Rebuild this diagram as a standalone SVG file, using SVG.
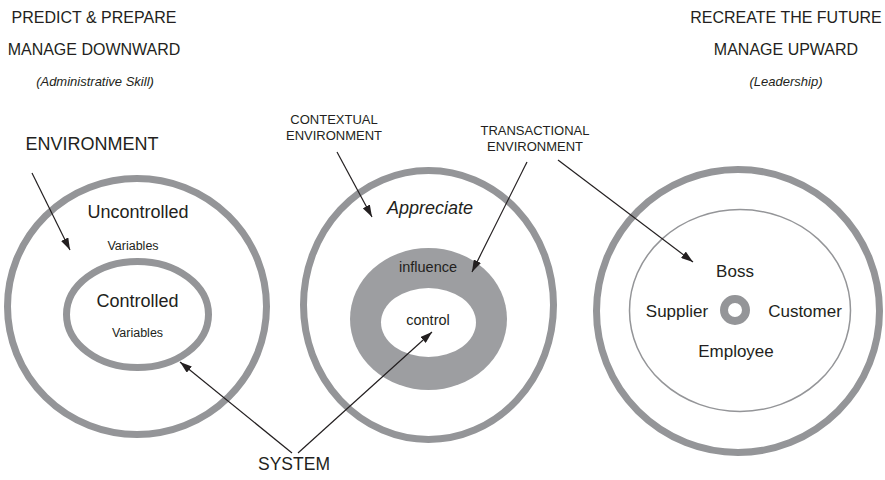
<svg xmlns="http://www.w3.org/2000/svg" width="885" height="480" viewBox="0 0 885 480">
<style>
text{font-family:"Liberation Sans",Arial,sans-serif;fill:#231f20;text-anchor:middle}
.ring{fill:none;stroke:#949598;stroke-width:7}
.thin{fill:none;stroke:#949598;stroke-width:1.5}
.con{stroke:#231f20;stroke-width:1.2;fill:none;marker-end:url(#ah)}
.h{font-size:16px}
.it{font-style:italic}
</style>
<defs>
<marker id="ah" viewBox="0 0 12 8" refX="12" refY="4" markerWidth="12" markerHeight="8" markerUnits="userSpaceOnUse" orient="auto">
<path d="M0,0 L12,4 L0,8 Z" fill="#231f20"/>
</marker>
</defs>
<rect width="885" height="480" fill="#fff"/>
<g id="headings">
<text class="h" x="94" y="23">PREDICT &amp; PREPARE</text>
<text class="h" x="94" y="55">MANAGE DOWNWARD</text>
<text class="it" x="95" y="86" font-size="13">(Administrative Skill)</text>
<text class="h" x="786" y="23">RECREATE THE FUTURE</text>
<text class="h" x="786" y="55">MANAGE UPWARD</text>
<text class="it" x="786" y="86" font-size="13">(Leadership)</text>
</g>
<g id="label-environment"><text x="92" y="150" font-size="18">ENVIRONMENT</text></g>
<g id="label-contextual"><text x="334" y="124" font-size="13">CONTEXTUAL</text><text x="334" y="140" font-size="13">ENVIRONMENT</text></g>
<g id="label-transactional"><text x="535" y="135" font-size="13">TRANSACTIONAL</text><text x="535" y="151" font-size="13">ENVIRONMENT</text></g>
<g id="label-system"><text x="294" y="470" font-size="17.5">SYSTEM</text></g>
<g id="left-node">
<ellipse class="ring" cx="137" cy="306.5" rx="129.5" ry="128"/>
<ellipse class="ring" cx="137.5" cy="314.5" rx="71" ry="53"/>
<text x="138" y="218" font-size="18">Uncontrolled</text>
<text x="133" y="250" font-size="12.5">Variables</text>
<text x="137.5" y="307" font-size="18">Controlled</text>
<text x="137.5" y="337" font-size="12.5">Variables</text>
</g>
<g id="middle-node">
<ellipse class="ring" cx="428.5" cy="305" rx="125" ry="134.5"/>
<ellipse cx="428.5" cy="319" rx="78.5" ry="71" fill="#9d9ea1"/>
<ellipse cx="428.5" cy="322.5" rx="47.5" ry="34.5" fill="#fff"/>
<text class="it" x="430" y="214" font-size="18">Appreciate</text>
<text x="428" y="272" font-size="14.5">influence</text>
<text x="428" y="325" font-size="14.5">control</text>
</g>
<g id="right-node">
<circle class="ring" cx="738" cy="311" r="141.5" stroke-width="8"/>
<ellipse class="thin" cx="740" cy="310.5" rx="110.5" ry="101"/>
<circle cx="735" cy="310" r="11" fill="none" stroke="#949598" stroke-width="8"/>
<text x="735" y="277" font-size="17">Boss</text>
<text x="677" y="317" font-size="17">Supplier</text>
<text x="805" y="317" font-size="17">Customer</text>
<text x="736" y="357" font-size="17">Employee</text>
</g>
<g id="connectors">
<line class="con" x1="32" y1="173" x2="70" y2="250"/>
<line class="con" x1="292" y1="453" x2="180" y2="362"/>
<line class="con" x1="298" y1="453" x2="432" y2="332"/>
<line class="con" x1="337" y1="152" x2="372" y2="217"/>
<line class="con" x1="527" y1="162" x2="472" y2="272"/>
<line class="con" x1="558" y1="160" x2="693" y2="262"/>
</g>
</svg>
